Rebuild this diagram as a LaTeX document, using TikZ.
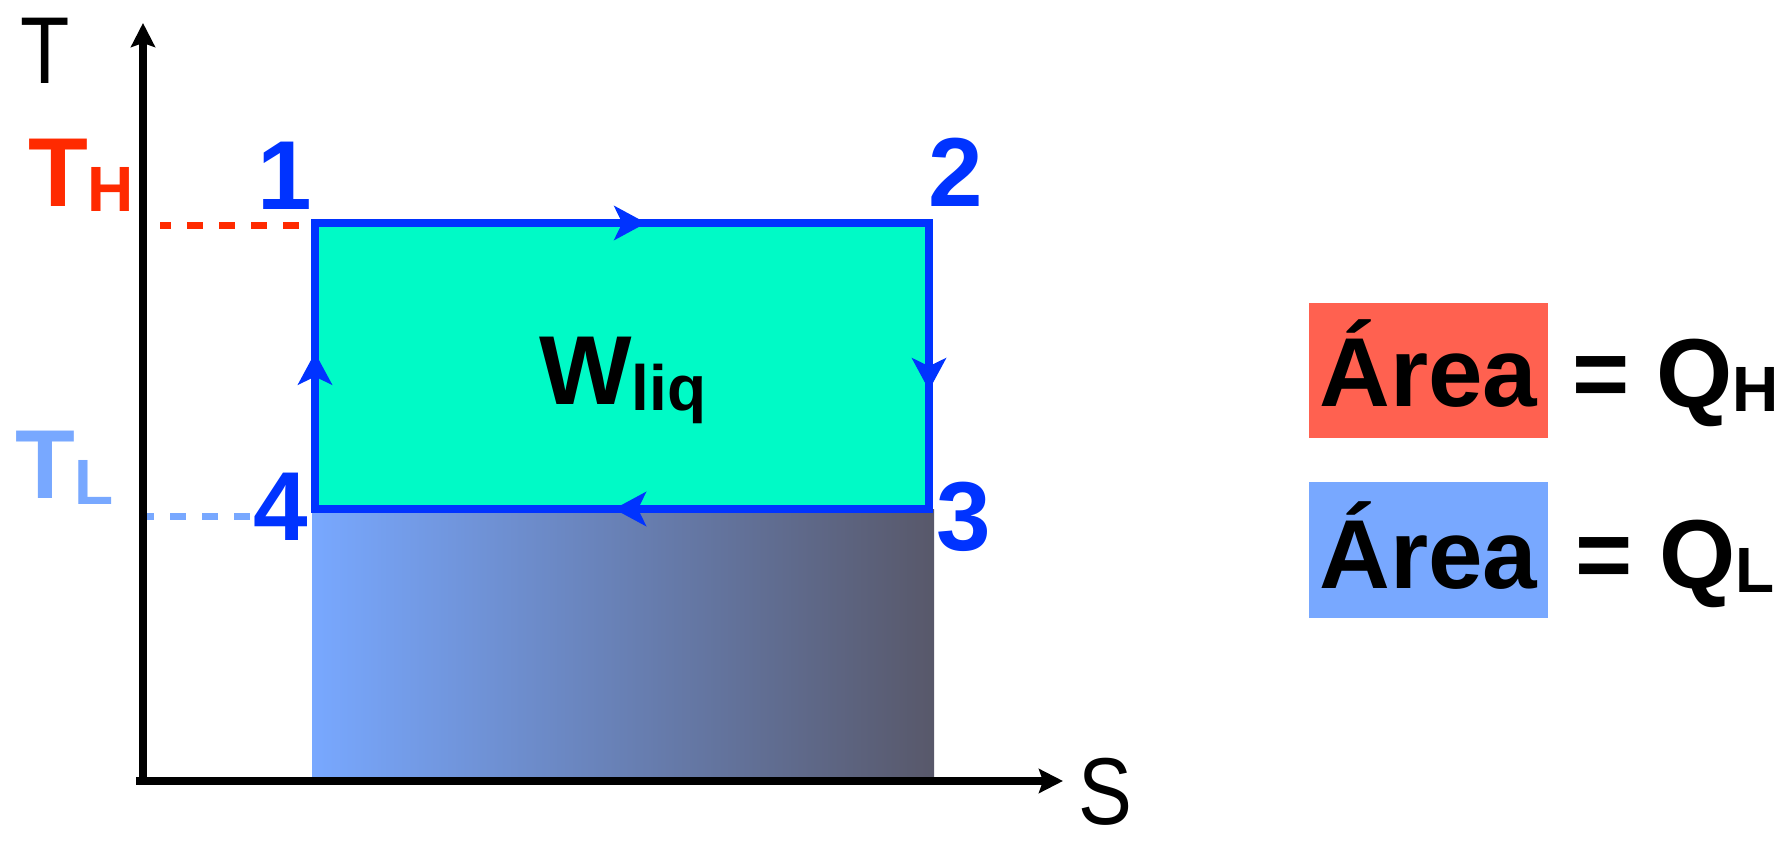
\documentclass[tikz,border=0pt]{standalone}
\usepackage{fontspec}
\setmainfont{Liberation Sans}
\usetikzlibrary{arrows.meta,decorations.markings}
\definecolor{cycblue}{HTML}{0033FF}
\definecolor{hotred}{HTML}{FF2A00}
\definecolor{coldblue}{HTML}{78A8FF}
\definecolor{workteal}{HTML}{00FAC6}
\definecolor{gradright}{HTML}{58586A}
\definecolor{boxred}{HTML}{FF6150}
\newcommand{\bigfs}{\fontsize{49pt}{49pt}\selectfont\bfseries}
\newcommand{\subfs}{\fontsize{32pt}{32pt}\selectfont\bfseries}
\newcommand{\axfs}{\fontsize{47.5pt}{47.5pt}\selectfont}
\begin{document}
\begin{tikzpicture}[x=0.5pt,y=-0.5pt,
  lbl/.style={inner sep=0pt, outer sep=0pt},
  axisline/.style={line width=4.4pt, -{Stealth[length=12pt,width=12pt,inset=2pt]}},
  cycleline/.style={draw=cycblue, line width=4pt, line join=miter},
  cyctip/.style={color=cycblue},
  hotdash/.style={line width=3.5pt, hotred, dash pattern=on 8pt off 8pt, dash phase=2.5pt},
  colddash/.style={line width=3.5pt, coldblue, dash pattern=on 8pt off 8pt, dash phase=4.5pt},
  numlbl/.style={lbl, anchor=base, text=cycblue},
  legbox/.style={inner sep=0pt, outer sep=0pt, minimum width=119.5pt, anchor=base}
]
\useasboundingbox (0,0) rectangle (1782,844);

% corners of the cycle
\coordinate (p1) at (315,223);
\coordinate (p2) at (929,223);
\coordinate (p3) at (929,509);
\coordinate (p4) at (315,509);

% Q_L area (gradient)
\shade[left color=coldblue, right color=gradright] (312,509) rectangle (934,777);
% work area
\fill[workteal] (p1) rectangle (p3);
% cycle with direction arrows
\draw[cycleline, cyctip, postaction={decorate}, decoration={markings,
   mark=at position 0.184 with {\arrow{Stealth[length=16pt,width=17pt,inset=4pt]}},
   mark=at position 0.434 with {\arrow{Stealth[length=16pt,width=17pt,inset=4pt]}},
   mark=at position 0.675 with {\arrow{Stealth[length=16pt,width=17pt,inset=4pt]}},
   mark=at position 0.928 with {\arrow{Stealth[length=16pt,width=17pt,inset=4pt]}}}]
   (p1) -- (p2) -- (p3) -- (p4) -- cycle;

% dashed level lines
\coordinate (thstart) at (160,226);
\coordinate (thend) at (300,226);
\coordinate (tlstart) at (147,516);
\coordinate (tlend) at (250,516);
\draw[hotdash] (thstart) -- (thend);
\draw[colddash] (tlstart) -- (tlend);

% axes
\coordinate (ybase) at (143,785);
\coordinate (ytip) at (143,23);
\coordinate (xbase) at (136,781);
\coordinate (xtip) at (1063,781);
\draw[axisline] (ybase) -- (ytip);
\draw[axisline] (xbase) -- (xtip);

% axis labels
\node[lbl, anchor=base west] (tlab) at (20,84) {\axfs\scalebox{0.85}[1]{T}};
\node[lbl, anchor=base west] (slab) at (1078,824) {\axfs\scalebox{0.85}[1]{S}};

% temperature labels
\node[lbl, anchor=base west, text=hotred] (TH) at (28,207) {\bigfs T\raisebox{-2.5pt}{\subfs H}};
\node[lbl, anchor=base west, text=coldblue] (TL) at (15,498) {\bigfs T\raisebox{-3pt}{\subfs L}};

% state numbers
\node[numlbl] (n1) at (285,210) {\bigfs 1};
\node[numlbl] (n2) at (956,207) {\bigfs 2};
\node[numlbl] (n3) at (964,550) {\bigfs 3};
\node[numlbl] (n4) at (281,540) {\bigfs 4};

% work label
\node[lbl, anchor=base west] (wlab) at (539,405) {\bigfs W\raisebox{-2.5pt}{\subfs liq}};

% legend
\node[legbox, fill=boxred, text height=52pt, text depth=15.5pt] (areaH) at (1428.5,407) {\bigfs Área};
\node[lbl, anchor=base west] (QH) at (1572,408) {\bigfs = Q\raisebox{-2pt}{\subfs H}};
\node[legbox, fill=coldblue, text height=53pt, text depth=15pt] (areaL) at (1428.5,588) {\bigfs Área};
\node[lbl, anchor=base west] (QL) at (1575,588) {\bigfs = Q\raisebox{-2pt}{\subfs L}};
\end{tikzpicture}
\end{document}
